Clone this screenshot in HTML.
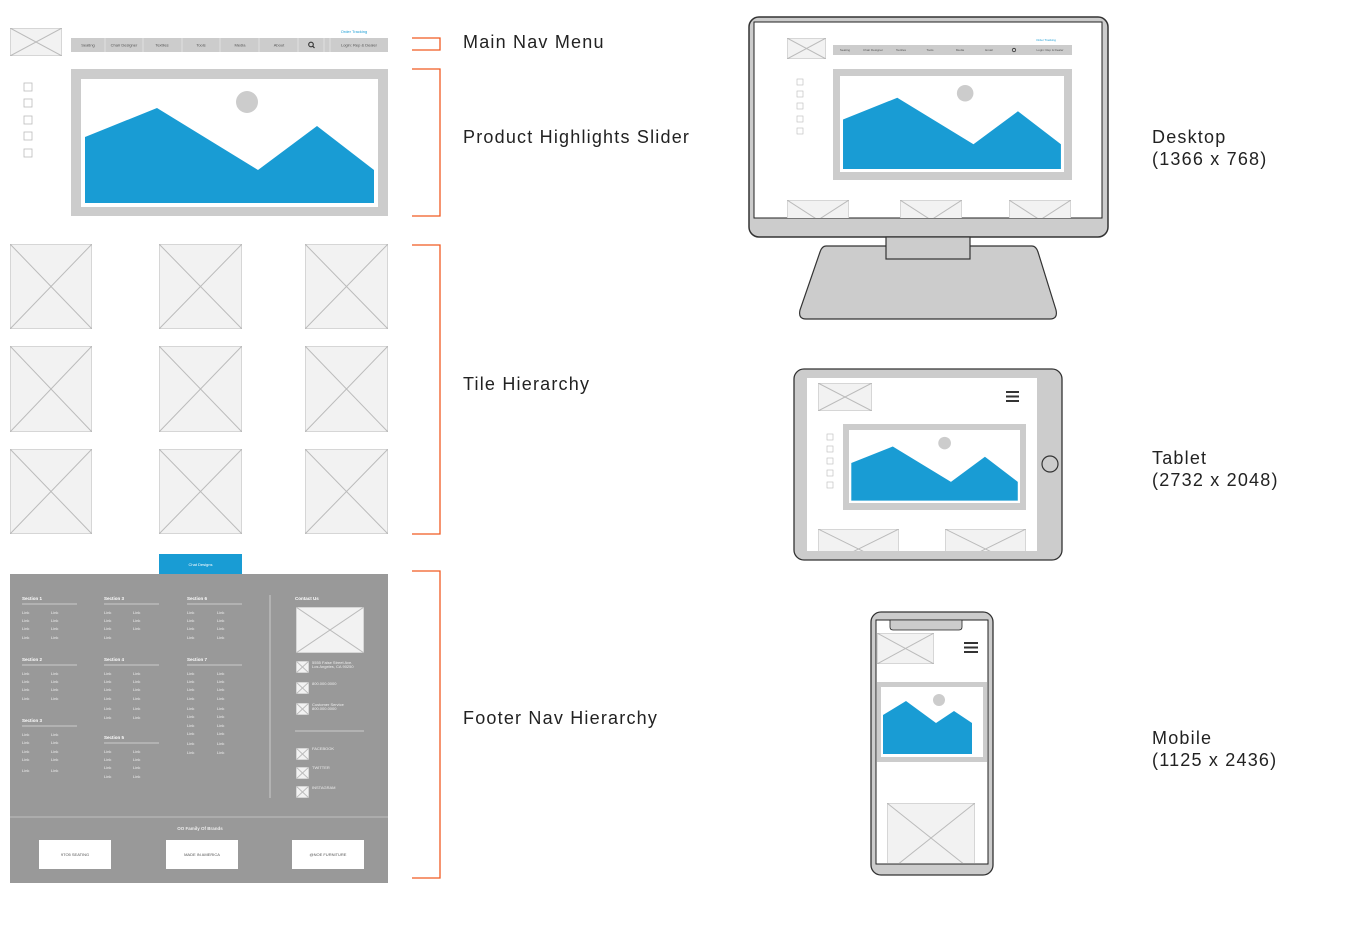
<!DOCTYPE html>
<html><head><meta charset="utf-8"><style>
html,body{margin:0;padding:0;background:#fff;width:1366px;height:944px;overflow:hidden}
svg{display:block}
.lbl{font-family:"Liberation Sans",sans-serif;font-size:18px;fill:#222;letter-spacing:1.2px}
.t{font-family:"Liberation Sans",sans-serif;font-size:4px;fill:#eee}
.h{font-family:"Liberation Sans",sans-serif;font-size:4.5px;fill:#fff;font-weight:bold}
.n{font-family:"Liberation Sans",sans-serif;font-size:4px;fill:#555}
</style></head><body>
<svg width="1366" height="944" viewBox="0 0 1366 944" xmlns="http://www.w3.org/2000/svg">
<defs>
<symbol id="ph" viewBox="0 0 100 100" preserveAspectRatio="none">
<rect x="0" y="0" width="100" height="100" fill="#f2f2f2" stroke="#bbb" stroke-width="1" vector-effect="non-scaling-stroke"/>
<line x1="0" y1="0" x2="100" y2="100" stroke="#bbb" vector-effect="non-scaling-stroke"/>
<line x1="100" y1="0" x2="0" y2="100" stroke="#bbb" vector-effect="non-scaling-stroke"/>
</symbol>
<g id="mt">
<polygon points="4,58 76,29 177,91 236,47 293,91 293,124 4,124" fill="#199cd4"/>
<circle cx="166" cy="23" r="11" fill="#ccc"/>
</g>
</defs>

<!-- left page -->
<use href="#ph" x="10" y="28" width="52" height="28"/>
<text x="354" y="33" text-anchor="middle" font-family="Liberation Sans" font-size="4" fill="#199cd4">Order Tracking</text>
<rect x="71" y="38" width="317" height="14" fill="#ccc"/>
<g stroke="#eee" stroke-width="0.6">
<line x1="105" y1="38" x2="105" y2="52"/><line x1="143" y1="38" x2="143" y2="52"/><line x1="182" y1="38" x2="182" y2="52"/><line x1="220" y1="38" x2="220" y2="52"/><line x1="259" y1="38" x2="259" y2="52"/><line x1="298" y1="38" x2="298" y2="52"/><line x1="324" y1="38" x2="324" y2="52"/><line x1="330" y1="38" x2="330" y2="52"/>
</g>
<g class="n" text-anchor="middle">
<text x="88" y="46.5">Seating</text><text x="124" y="46.5">Chair Designer</text><text x="162" y="46.5">Textiles</text><text x="201" y="46.5">Tools</text><text x="240" y="46.5">Media</text><text x="279" y="46.5">About</text><text x="359" y="46.5">Login: Rep &amp; Dealer</text>
</g>
<circle cx="311" cy="44.5" r="2.3" fill="none" stroke="#333" stroke-width="1.1"/><line x1="312.7" y1="46.2" x2="314.5" y2="48" stroke="#333" stroke-width="1.2"/>
<g fill="#fff" stroke="#bbb" stroke-width="0.8">
<rect x="24" y="83" width="8" height="8"/><rect x="24" y="99" width="8" height="8"/><rect x="24" y="116" width="8" height="8"/><rect x="24" y="132" width="8" height="8"/><rect x="24" y="149" width="8" height="8"/>
</g>
<rect x="71" y="69" width="317" height="147" fill="#ccc"/>
<rect x="81" y="79" width="297" height="128" fill="#fff"/>
<use href="#mt" transform="translate(81,79)"/>

<use href="#ph" x="10" y="244" width="82" height="85"/>
<use href="#ph" x="159" y="244" width="83" height="85"/>
<use href="#ph" x="305" y="244" width="83" height="85"/>
<use href="#ph" x="10" y="346" width="82" height="86"/>
<use href="#ph" x="159" y="346" width="83" height="86"/>
<use href="#ph" x="305" y="346" width="83" height="86"/>
<use href="#ph" x="10" y="449" width="82" height="85"/>
<use href="#ph" x="159" y="449" width="83" height="85"/>
<use href="#ph" x="305" y="449" width="83" height="85"/>

<rect x="159" y="554" width="83" height="20" fill="#199cd4"/>
<text x="200.5" y="566" text-anchor="middle" font-family="Liberation Sans" font-size="4" fill="#fff">Chat Designs</text>

<rect x="10" y="574" width="378" height="309" fill="#999"/>
<line x1="10" y1="817" x2="388" y2="817" stroke="#ccc" stroke-width="0.8"/>
<line x1="270" y1="595" x2="270" y2="798" stroke="#ccc" stroke-width="1"/>
<g stroke="#ddd" stroke-width="0.8">
<line x1="22" y1="604" x2="77" y2="604"/><line x1="104" y1="604" x2="159" y2="604"/><line x1="187" y1="604" x2="242" y2="604"/>
<line x1="22" y1="665" x2="77" y2="665"/><line x1="104" y1="665" x2="159" y2="665"/><line x1="187" y1="665" x2="242" y2="665"/>
<line x1="22" y1="726" x2="77" y2="726"/><line x1="104" y1="743" x2="159" y2="743"/>
<line x1="295" y1="731" x2="364" y2="731"/>
</g>
<g class="h">
<text x="22" y="600">Section 1</text><text x="104" y="600">Section 3</text><text x="187" y="600">Section 6</text>
<text x="22" y="661">Section 2</text><text x="104" y="661">Section 4</text><text x="187" y="661">Section 7</text>
<text x="22" y="722">Section 3</text><text x="104" y="739">Section 5</text><text x="295" y="600">Contact Us</text>
<text x="200" y="830" text-anchor="middle" fill="#eee">OO Family Of Brands</text>
</g>
<g class="t">
<text x="22" y="614">Link</text><text x="51" y="614">Link</text><text x="22" y="622">Link</text><text x="51" y="622">Link</text><text x="22" y="630">Link</text><text x="51" y="630">Link</text><text x="22" y="639">Link</text><text x="51" y="639">Link</text>
<text x="104" y="614">Link</text><text x="133" y="614">Link</text><text x="104" y="622">Link</text><text x="133" y="622">Link</text><text x="104" y="630">Link</text><text x="133" y="630">Link</text><text x="104" y="639">Link</text>
<text x="187" y="614">Link</text><text x="217" y="614">Link</text><text x="187" y="622">Link</text><text x="217" y="622">Link</text><text x="187" y="630">Link</text><text x="217" y="630">Link</text><text x="187" y="639">Link</text><text x="217" y="639">Link</text>
<text x="22" y="675">Link</text><text x="51" y="675">Link</text><text x="22" y="683">Link</text><text x="51" y="683">Link</text><text x="22" y="691">Link</text><text x="51" y="691">Link</text><text x="22" y="700">Link</text><text x="51" y="700">Link</text>
<text x="104" y="675">Link</text><text x="133" y="675">Link</text><text x="104" y="683">Link</text><text x="133" y="683">Link</text><text x="104" y="691">Link</text><text x="133" y="691">Link</text><text x="104" y="700">Link</text><text x="133" y="700">Link</text><text x="104" y="710">Link</text><text x="133" y="710">Link</text><text x="104" y="719">Link</text><text x="133" y="719">Link</text>
<text x="187" y="675">Link</text><text x="217" y="675">Link</text><text x="187" y="683">Link</text><text x="217" y="683">Link</text><text x="187" y="691">Link</text><text x="217" y="691">Link</text><text x="187" y="700">Link</text><text x="217" y="700">Link</text><text x="187" y="710">Link</text><text x="217" y="710">Link</text><text x="187" y="718">Link</text><text x="217" y="718">Link</text><text x="187" y="727">Link</text><text x="217" y="727">Link</text><text x="187" y="735">Link</text><text x="217" y="735">Link</text><text x="187" y="745">Link</text><text x="217" y="745">Link</text><text x="187" y="754">Link</text><text x="217" y="754">Link</text>
<text x="22" y="736">Link</text><text x="51" y="736">Link</text><text x="22" y="744">Link</text><text x="51" y="744">Link</text><text x="22" y="753">Link</text><text x="51" y="753">Link</text><text x="22" y="761">Link</text><text x="51" y="761">Link</text><text x="22" y="772">Link</text><text x="51" y="772">Link</text>
<text x="104" y="753">Link</text><text x="133" y="753">Link</text><text x="104" y="761">Link</text><text x="133" y="761">Link</text><text x="104" y="769">Link</text><text x="133" y="769">Link</text><text x="104" y="778">Link</text><text x="133" y="778">Link</text>
<text x="312" y="664">5555 False Street Ave.</text><text x="312" y="668">Los Angeles, CA 90250</text>
<text x="312" y="685">800.000.0000</text>
<text x="312" y="706">Customer Service</text><text x="312" y="710">800.000.0000</text>
<text x="312" y="750">FACEBOOK</text><text x="312" y="769">TWITTER</text><text x="312" y="789">INSTAGRAM</text>
</g>
<use href="#ph" x="296" y="607" width="68" height="46"/>
<use href="#ph" x="296" y="661" width="13" height="12"/>
<use href="#ph" x="296" y="682" width="13" height="12"/>
<use href="#ph" x="296" y="703" width="13" height="12"/>
<use href="#ph" x="296" y="748" width="13" height="12"/>
<use href="#ph" x="296" y="767" width="13" height="12"/>
<use href="#ph" x="296" y="786" width="13" height="12"/>
<rect x="39" y="840" width="72" height="29" fill="#fff"/>
<rect x="166" y="840" width="72" height="29" fill="#fff"/>
<rect x="292" y="840" width="72" height="29" fill="#fff"/>
<g class="n" text-anchor="middle"><text x="75" y="856">9TO5 SEATING</text><text x="202" y="856">MADE IN AMERICA</text><text x="328" y="856">@NOE FURNITURE</text></g>

<!-- brackets -->
<g fill="none" stroke="#f05a22" stroke-width="1.3">
<polyline points="412,38 440,38 440,50 412,50"/>
<polyline points="412,69 440,69 440,216 412,216"/>
<polyline points="412,245 440,245 440,534 412,534"/>
<polyline points="412,571 440,571 440,878 412,878"/>
</g>
<text class="lbl" x="463" y="48">Main Nav Menu</text>
<text class="lbl" x="463" y="143">Product Highlights Slider</text>
<text class="lbl" x="463" y="390">Tile Hierarchy</text>
<text class="lbl" x="463" y="724">Footer Nav Hierarchy</text>

<!-- desktop -->
<path d="M826,246 L1032,246 Q1036,246 1038,252 L1056,310 Q1058,319 1050,319 L806,319 Q798,319 800,310 L820,252 Q822,246 826,246 Z" fill="#ccc" stroke="#333" stroke-width="1.2"/>
<rect x="749" y="17" width="359" height="220" rx="10" fill="#ccc" stroke="#333" stroke-width="1.5"/>
<rect x="886" y="237" width="84" height="22" fill="#ccc" stroke="#333" stroke-width="1.2"/>
<rect x="754" y="22" width="348" height="196" fill="#fff" stroke="#222" stroke-width="1"/>
<use href="#ph" x="787" y="38" width="39" height="21"/>
<text x="1046" y="41" text-anchor="middle" font-family="Liberation Sans" font-size="3" fill="#199cd4">Order Tracking</text>
<rect x="833" y="45" width="239" height="10" fill="#ccc"/>
<g class="n" text-anchor="middle" style="font-size:3px"><text x="845" y="51">Seating</text><text x="873" y="51">Chair Designer</text><text x="901" y="51">Textiles</text><text x="930" y="51">Tools</text><text x="960" y="51">Media</text><text x="989" y="51">Email</text><text x="1050" y="51">Login: Rep &amp; Dealer</text></g>
<circle cx="1014" cy="50" r="1.7" fill="none" stroke="#333" stroke-width="0.8"/>
<g fill="#fff" stroke="#bbb" stroke-width="0.6">
<rect x="797" y="79" width="6" height="6"/><rect x="797" y="91" width="6" height="6"/><rect x="797" y="103" width="6" height="6"/><rect x="797" y="116" width="6" height="6"/><rect x="797" y="128" width="6" height="6"/>
</g>
<rect x="833" y="69" width="239" height="111" fill="#ccc"/>
<rect x="840" y="76" width="224" height="96" fill="#fff"/>
<use href="#mt" transform="translate(840,76) scale(0.754,0.75)"/>
<svg x="754" y="22" width="348" height="196" overflow="hidden">
<use href="#ph" x="33" y="178" width="62" height="40"/>
<use href="#ph" x="146" y="178" width="62" height="40"/>
<use href="#ph" x="255" y="178" width="62" height="40"/>
</svg>
<text class="lbl" x="1152" y="143">Desktop</text>
<text class="lbl" x="1152" y="165">(1366 x 768)</text>

<!-- tablet -->
<rect x="794" y="369" width="268" height="191" rx="10" fill="#ccc" stroke="#333" stroke-width="1.3"/>
<rect x="807" y="378" width="230" height="173" fill="#fff"/>
<circle cx="1050" cy="464" r="8" fill="none" stroke="#333" stroke-width="1.2"/>
<use href="#ph" x="818" y="383" width="54" height="28"/>
<g stroke="#333" stroke-width="2"><line x1="1006" y1="392" x2="1019" y2="392"/><line x1="1006" y1="396.5" x2="1019" y2="396.5"/><line x1="1006" y1="401" x2="1019" y2="401"/></g>
<g fill="#fff" stroke="#bbb" stroke-width="0.6">
<rect x="827" y="434" width="6" height="6"/><rect x="827" y="446" width="6" height="6"/><rect x="827" y="458" width="6" height="6"/><rect x="827" y="470" width="6" height="6"/><rect x="827" y="482" width="6" height="6"/>
</g>
<rect x="843" y="424" width="183" height="86" fill="#ccc"/>
<rect x="849" y="430" width="171" height="73" fill="#fff"/>
<use href="#mt" transform="translate(849,430) scale(0.576,0.57)"/>
<svg x="807" y="378" width="230" height="173" overflow="hidden">
<use href="#ph" x="11" y="151" width="81" height="40"/>
<use href="#ph" x="138" y="151" width="81" height="40"/>
</svg>
<text class="lbl" x="1152" y="464">Tablet</text>
<text class="lbl" x="1152" y="486">(2732 x 2048)</text>

<!-- mobile -->
<rect x="871" y="612" width="122" height="263" rx="10" fill="#ccc" stroke="#333" stroke-width="1.3"/>
<rect x="876" y="620" width="112" height="244" fill="#fff" stroke="#222" stroke-width="1"/>
<path d="M890,620 L962,620 L962,627 Q962,630 959,630 L893,630 Q890,630 890,627 Z" fill="#ccc" stroke="#222" stroke-width="0.8"/>
<use href="#ph" x="877" y="633" width="57" height="31"/>
<g stroke="#333" stroke-width="2"><line x1="964" y1="643" x2="978" y2="643"/><line x1="964" y1="647.5" x2="978" y2="647.5"/><line x1="964" y1="652" x2="978" y2="652"/></g>
<rect x="877" y="682" width="110" height="80" fill="#ccc"/>
<rect x="881" y="687" width="102" height="70" fill="#fff"/>
<g transform="translate(883,700)"><polygon points="0,15 23,1 53,23 71,11 89,23 89,54 0,54" fill="#199cd4"/></g>
<circle cx="939" cy="700" r="6" fill="#ccc"/>
<svg x="876" y="620" width="112" height="243" overflow="hidden">
<use href="#ph" x="11" y="183" width="88" height="70"/>
</svg>
<text class="lbl" x="1152" y="744">Mobile</text>
<text class="lbl" x="1152" y="766">(1125 x 2436)</text>
</svg>
</body></html>
